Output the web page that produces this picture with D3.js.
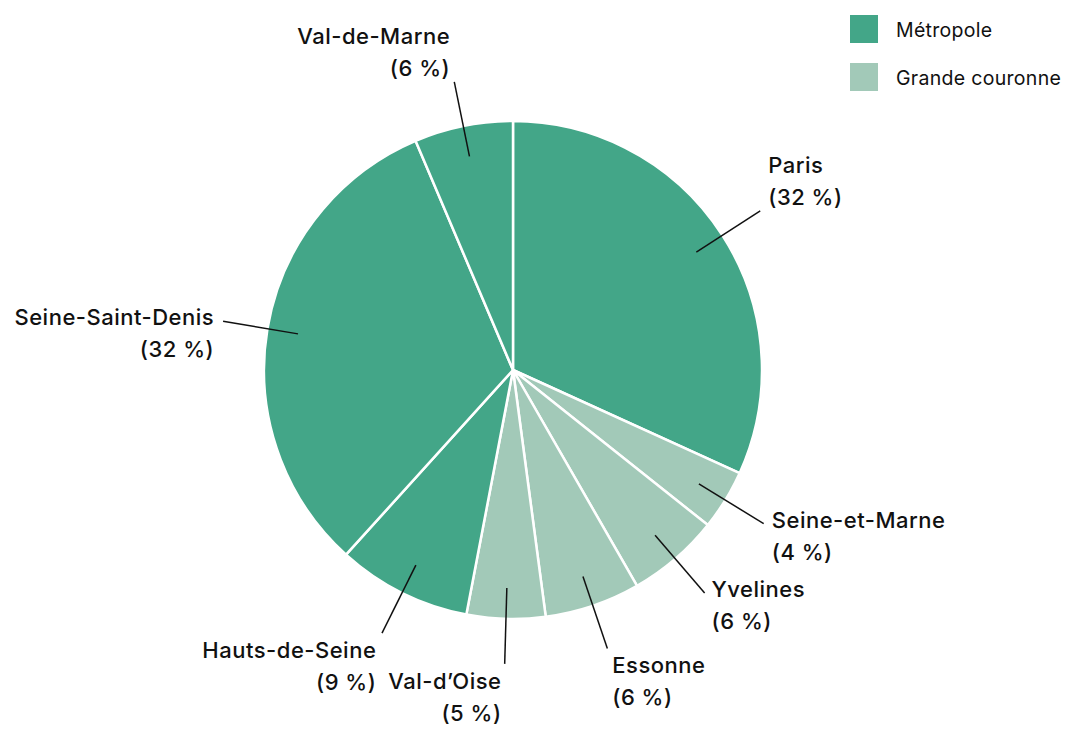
<!DOCTYPE html>
<html><head><meta charset="utf-8">
<script src="https://cdn.jsdelivr.net/npm/d3@7"></script>
<style>
html,body{margin:0;padding:0;background:#fff;}
text{font-family:Inter,"Noto Sans",sans-serif;fill:#111;}
</style></head>
<body><svg id="c" width="1070" height="731"></svg>
<script>
const categories = ["Paris","Seine-et-Marne","Yvelines","Essonne","Val-d\u2019Oise","Hauts-de-Seine","Seine-Saint-Denis","Val-de-Marne"];
const values = [31.8, 3.9, 6.0, 6.2, 5.1, 8.7, 31.9, 6.4];
const percentLabels = ["32 %","4 %","6 %","6 %","5 %","9 %","32 %","6 %"];
const groups = ["Métropole","Grande couronne","Grande couronne","Grande couronne","Grande couronne","Métropole","Métropole","Métropole"];
const legendLabels = ["Métropole","Grande couronne"];
const legendColors = ["#43a688","#a2c9b8"];

const svg = d3.select("#c");
const cx = 513, cy = 370, R = 249;
const color = d3.scaleOrdinal().domain(legendLabels).range(legendColors);

const pie = d3.pie().sort(null).value(d => d.v);
const data = categories.map((c,i)=>({c, v:values[i], p:percentLabels[i], g:groups[i]}));
const arcs = pie(data);
const arc = d3.arc().innerRadius(0).outerRadius(R);
const g = svg.append("g").attr("transform",`translate(${cx},${cy})`);

g.selectAll("path.slice").data(arcs).join("path")
  .attr("class","slice")
  .attr("d",arc)
  .attr("fill",d=>color(d.data.g))
  .attr("stroke","#fff").attr("stroke-width",2.5).attr("stroke-linejoin","round");

const rIn = 218, rOut = 294;
arcs.forEach(d=>{
  const a = (d.startAngle+d.endAngle)/2;
  const s = Math.sin(a), c = Math.cos(a);
  const x1 = rIn*s, y1 = -rIn*c, x2 = rOut*s, y2 = -rOut*c;
  g.append("line").attr("x1",x1).attr("y1",y1).attr("x2",x2).attr("y2",y2)
    .attr("stroke","#111").attr("stroke-width",1.5);
  const right = s > 0;
  const tx = x2 + (right?3:-3) + 6*s;
  let by;
  if (c > 0.5) by = y2 - 38;
  else if (c < -0.85) by = y2 + 25;
  else by = y2 + 4;
  const t = g.append("text").attr("text-anchor", right?"start":"end")
    .attr("font-size",22).attr("font-weight",500).attr("letter-spacing",0.5);
  t.append("tspan").attr("x",tx).attr("y",by).text(d.data.c);
  t.append("tspan").attr("x",tx).attr("y",by+32).text("(" + d.data.p + ")");
});

const lg = svg.append("g");
legendLabels.forEach((l,i)=>{
  lg.append("rect").attr("x",850).attr("y",15+i*48).attr("width",28).attr("height",28).attr("fill",legendColors[i]);
  lg.append("text").attr("x",896).attr("y",37+i*48).attr("font-size",19.5).attr("letter-spacing",0.3).text(l);
});
</script></body></html>
